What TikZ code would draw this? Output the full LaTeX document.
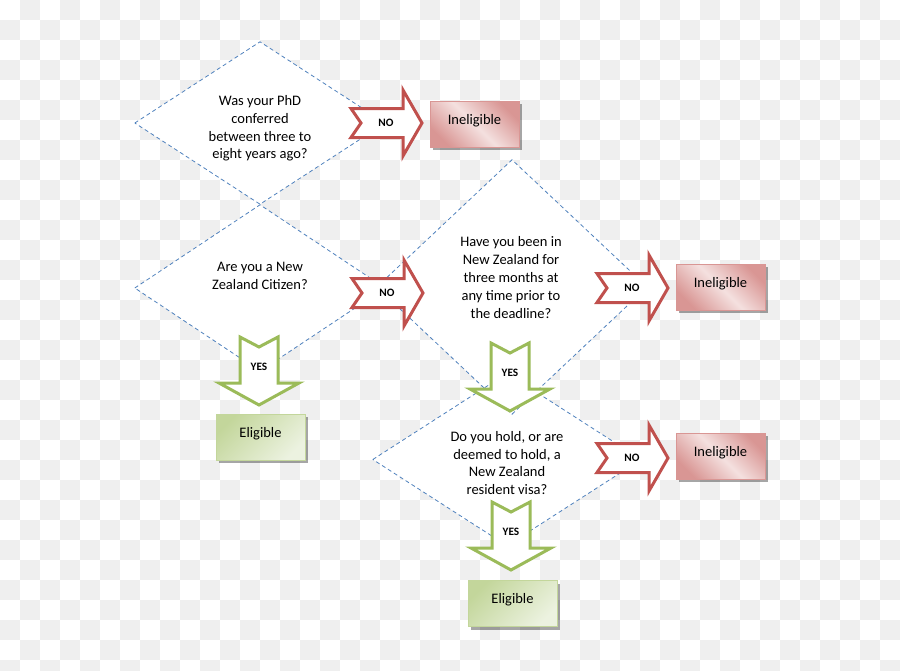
\documentclass[tikz,border=0pt]{standalone}
\usepackage{fontspec}
\setmainfont{Carlito}
\usetikzlibrary{shadows}
\definecolor{chk}{RGB}{239,239,239}
\definecolor{dblue}{RGB}{79,129,189}
\definecolor{nored}{RGB}{192,80,77}
\definecolor{yesgreen}{RGB}{155,187,89}
\definecolor{redA}{RGB}{217,150,148}
\definecolor{redB}{RGB}{244,224,223}
\definecolor{greenA}{RGB}{195,214,155}
\definecolor{greenB}{RGB}{236,242,224}
\tikzset{
  pics/noarr/.style={code={
    \path[noline] (0,-14.5) -- (52,-14.5) -- (52,-33) -- (71,0) -- (52,33) -- (52,14.5) -- (0,14.5) -- (10,0) -- cycle;
    \node[alabel] (-t) at (35,0) {NO};}},
  pics/yesarr/.style={code={
    \path[yesline] (-19,0) -- (0,10) -- (19,0) -- (19,46) -- (40,46) -- (0,68) -- (-40,46) -- (-19,46) -- cycle;
    \node[alabel] (-t) at (0,30) {YES};}}
}
\begin{document}
\begin{tikzpicture}[x=1pt,y=-1pt,
  dtext/.style={align=center,font=\fontsize{14.5}{17.8}\selectfont,inner sep=0pt},
  dfr/.style={rectangle,inner sep=0pt,draw=none},
  dline/.style={draw=dblue,line width=0.8pt,dash pattern=on 4pt off 3pt},
  noline/.style={draw=nored,fill=white,line width=3pt},
  yesline/.style={draw=yesgreen,fill=white,line width=3pt},
  alabel/.style={font=\fontsize{11.3}{13}\selectfont\bfseries,inner sep=0pt},
  boxbase/.style={rectangle,minimum width=89pt,minimum height=46pt,inner sep=0pt,
    text height=10pt,text depth=10pt,font=\fontsize{14.5}{17}\selectfont,line width=0.8pt,
    drop shadow={shadow xshift=3pt,shadow yshift=-3pt,fill=black,opacity=0.35}},
  inel/.style={boxbase,draw=redA,top color=redA,bottom color=redA,middle color=redB,shading angle=-45},
  elig/.style={boxbase,draw=greenA,top color=greenA,bottom color=greenB,shading angle=45}
]
\useasboundingbox (0,0) rectangle (900,670);
% checkerboard background
\foreach \i in {0,...,44}{\foreach \j in {0,...,33}{%
  \pgfmathtruncatemacro\s{mod(\i+\j,2)}%
  \ifnum\s=1 \fill[chk] (\i*20,\j*20) rectangle ++(20,20);\fi}}
% diamond frames
\node[dfr,minimum width=250pt,minimum height=162pt] (d1) at (260,123) {};
\node[dfr,minimum width=250pt,minimum height=166pt] (d2) at (260,288) {};
\node[dfr,minimum width=270pt,minimum height=254pt] (d3) at (512,287) {};
\node[dfr,minimum width=268pt,minimum height=172pt] (d4) at (507,459.5) {};
\foreach \d in {d1,d2,d3,d4}
  \fill[white] (\d.west) -- (\d.north) -- (\d.east) -- (\d.south) -- cycle;
\foreach \d in {d1,d2,d3,d4}
  \draw[dline] (\d.west) -- (\d.north) -- (\d.east) -- (\d.south) -- cycle;
% diamond texts
\begin{scope}
  \clip (100,30) rectangle (420,160);
  \node[dtext] (t1) at (260,128.5) {Was your PhD\\conferred\\between three to\\eight years ago?};
\end{scope}
\node[dtext] (t2) at (260,276) {Are you a New\\Zealand Citizen?};
\node[dtext] (t3) at (511,277.5) {Have you been in\\New Zealand for\\three months at\\any time prior to\\the deadline?};
\node[dtext] (t4) at (507,463) {Do you hold, or are\\deemed to hold, a\\New Zealand\\resident visa?};
% arrows
\pic (n1) at (351,123) {noarr};
\pic (n2) at (352,293) {noarr};
\pic (n3) at (597,288) {noarr};
\pic (n4) at (597,458) {noarr};
\pic (y1) at (259,337) {yesarr};
\pic (y2) at (510,343) {yesarr};
\pic (y3) at (511,502) {yesarr};
% result boxes
\node[inel] (i1) at (474.5,124) {Ineligible};
\node[inel] (i2) at (720.5,287) {Ineligible};
\node[inel] (i3) at (720.5,456) {Ineligible};
\node[elig] (e1) at (260.5,437) {Eligible};
\node[elig] (e2) at (512.5,603.5) {Eligible};
\end{tikzpicture}
\end{document}
